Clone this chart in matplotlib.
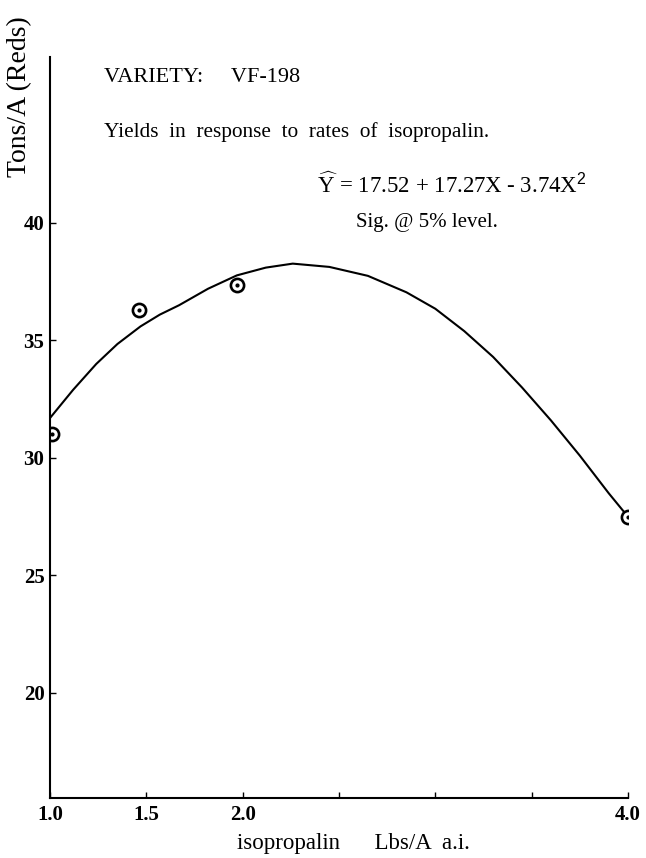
import matplotlib
matplotlib.use("Agg")
import matplotlib.pyplot as plt

# Observed yields
obs_x = [1.01, 1.46, 1.97, 4.0]
obs_y = [31.0, 36.3, 37.35, 27.5]

# Fitted curve as drawn
curve_x = [1.0, 1.12, 1.24, 1.35, 1.47, 1.57, 1.67, 1.82, 1.97, 2.12, 2.26,
           2.45, 2.65, 2.85, 3.0, 3.15, 3.3, 3.45, 3.6, 3.75, 3.9, 4.0]
curve_y = [31.7, 32.9, 34.0, 34.85, 35.6, 36.1, 36.5, 37.2, 37.77, 38.1, 38.27,
           38.13, 37.75, 37.05, 36.35, 35.4, 34.3, 33.0, 31.6, 30.1, 28.5, 27.5]

xticks = [1.0, 1.5, 2.0, 2.5, 3.0, 3.5, 4.0]
xticklabels = ["1.0", "1.5", "2.0", "", "", "", "4.0"]
yticks = [20, 25, 30, 35, 40]
yticklabels = ["20", "25", "30", "35", "40"]

plt.rcParams["font.family"] = ["Liberation Serif", "DejaVu Serif"]
plt.rcParams["mathtext.fontset"] = "custom"
plt.rcParams["mathtext.rm"] = "Liberation Serif"
plt.rcParams["mathtext.it"] = "Liberation Serif:italic"
plt.rcParams["mathtext.bf"] = "Liberation Serif:bold"
plt.rcParams["mathtext.sf"] = "Liberation Sans"

fig = plt.figure(figsize=(6.46, 8.58), dpi=100)
ax = fig.add_axes([0.0774, 0.0699, 0.8947, 0.8636])

ax.plot(curve_x, curve_y, color="black", lw=1.5, solid_capstyle="round",
        solid_joinstyle="round")
ax.plot(obs_x, obs_y, linestyle="none", marker="o", markersize=9.5,
        markerfacecolor="white", markeredgecolor="black", markeredgewidth=1.9)
ax.plot(obs_x, obs_y, linestyle="none", marker="o", markersize=2,
        color="black")

ax.set_xlim(1.0, 4.0)
ax.set_ylim(15.53, 47.06)
for s in ["top", "right"]:
    ax.spines[s].set_visible(False)
for s in ["left", "bottom"]:
    ax.spines[s].set_linewidth(1.5)

ax.set_xticks(xticks)
ax.set_xticklabels(xticklabels, fontsize=15, fontweight="bold")
ax.set_yticks(yticks)
ax.set_yticklabels(yticklabels, fontsize=15, fontweight="bold")
ax.tick_params(axis="both", direction="in", length=4, width=1)
ax.tick_params(axis="x", pad=5)
ax.tick_params(axis="y", pad=4)

fig.text(353 / 646, 1 - 843 / 858, "isopropalin      Lbs/A  a.i.", ha="center",
         va="center", fontsize=16.5)
fig.text(20 / 646, 1 - 97 / 858, "Tons/A (Reds)", rotation=90, ha="center",
         va="center", fontsize=20)

fig.text(104 / 646, 1 - 77 / 858, "VARIETY:     VF-198", ha="left",
         va="center", fontsize=16)
fig.text(104 / 646, 1 - 132 / 858,
         "Yields  in  response  to  rates  of  isopropalin.", ha="left",
         va="center", fontsize=15.3)
fig.text(317 / 646, 1 - 185 / 858,
         r"$\widehat{\mathrm{Y}}$ = 17.52 + 17.27X - 3.74X$^{\mathsf{2}}$",
         ha="left", va="center", fontsize=16.5)
fig.text(356 / 646, 1 - 222 / 858, "Sig. @ 5% level.", ha="left",
         va="center", fontsize=15)

fig.savefig("out.png", dpi=100)
